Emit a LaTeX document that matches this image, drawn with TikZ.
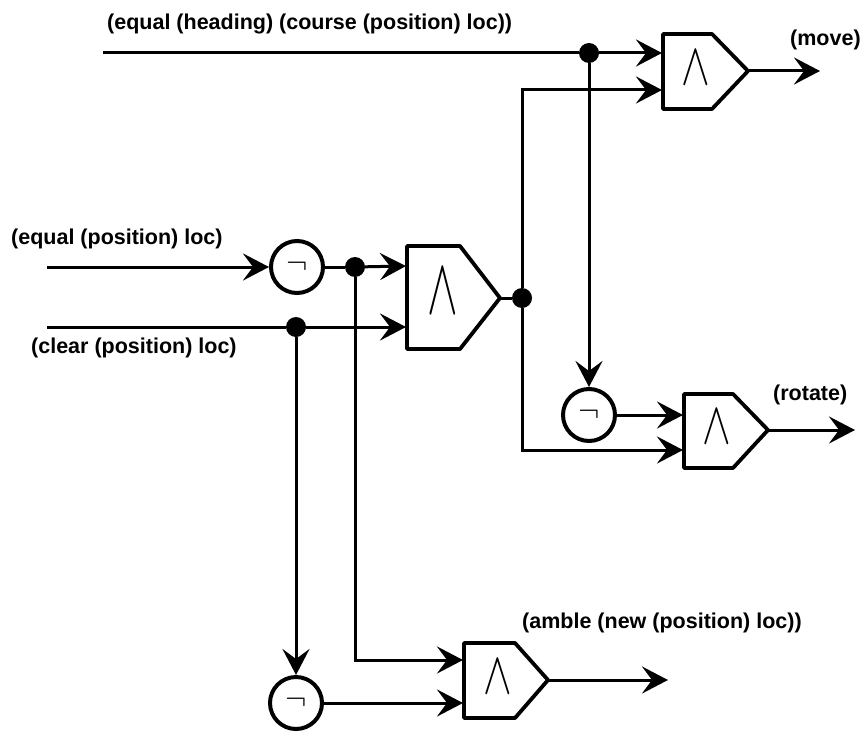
\documentclass[tikz,border=0pt]{standalone}
\usepackage{fontspec}
\setmainfont{Liberation Sans}
\usetikzlibrary{arrows.meta,positioning}

\begin{document}
\begin{tikzpicture}[
    x=1pt, y=-1pt,
    notgate/.style={circle, draw, line width=4pt, fill=white, minimum size=52pt, inner sep=0pt},
    dotjoin/.style={circle, fill=black, minimum size=20pt, inner sep=0pt},
    arrow/.style={line width=3pt, -{Stealth[length=26pt, width=27pt, inset=10pt]}},
    wire/.style={line width=3pt},
    label/.style={font=\fontsize{21.5}{24}\selectfont\bfseries, anchor=west, inner sep=0pt},
    andgate/.style={line width=3.8pt, line join=round},
    andmark/.style={inner sep=0pt}
]
    \useasboundingbox (0,0) rectangle (866,733);

    % Labels
    \node [label] (lheading) at (107,24) {(equal (heading) (course (position) loc))};
    \node [label] (lequal) at (11,239) {(equal (position) loc)};
    \node [label] (lclear) at (31,348) {(clear (position) loc)};
    \node [label] (lmove) at (790,40) {(move)};
    \node [label] (lrotate) at (773,395) {(rotate)};
    \node [label] (lamble) at (522,623) {(amble (new (position) loc))};

    % And gates
    \draw [andgate] (663,34) -- (712,34) -- (748,71) -- (712,109) -- (663,109) -- cycle;
    \draw [andgate] (407,246) -- (460,246) -- (500,298) -- (460,349) -- (407,349) -- cycle;
    \draw [andgate] (684,394) -- (733,394) -- (768,430) -- (733,468) -- (684,468) -- cycle;
    \draw [andgate] (464,643) -- (515,643) -- (548,680) -- (515,718) -- (464,718) -- cycle;
    \coordinate (gmove) at (748,71);
    \coordinate (gmovea) at (662,53);
    \coordinate (gmoveb) at (662,90);
    \coordinate (gmid) at (500,298);
    \coordinate (gmida) at (406,266);
    \coordinate (gmidb) at (406,327);
    \coordinate (grot) at (768,430);
    \coordinate (grota) at (683,415);
    \coordinate (grotb) at (683,450);
    \coordinate (gamb) at (548,680);
    \coordinate (gamba) at (463,660);
    \coordinate (gambb) at (463,703);

    % And symbols
    \node [andmark] (smove) at (696,68) {\scalebox{4.3}[6]{$\wedge$}};
    \node [andmark] (smid) at (443,291) {\scalebox{4.6}[8]{$\wedge$}};
    \node [andmark] (srot) at (717,427) {\scalebox{4.3}[6]{$\wedge$}};
    \node [andmark] (samb) at (498,677) {\scalebox{4.3}[6]{$\wedge$}};

    % Not gates
    \node [notgate] (nequal) at (297,267) {\scalebox{3.2}{$\neg$}};
    \node [notgate] (nrot) at (589,415) {\scalebox{3.2}{$\neg$}};
    \node [notgate] (nclear) at (296,703) {\scalebox{3.2}{$\neg$}};

    % Junctions
    \node [dotjoin] (jtop) at (589,53) {};
    \node [dotjoin] (jneg) at (355,267) {};
    \node [dotjoin] (jclear) at (296,327) {};
    \node [dotjoin] (jout) at (522,298) {};

    % Start and end points
    \coordinate (stop) at (103,53);
    \coordinate (sequal) at (47,267);
    \coordinate (sclear) at (47,327);
    \coordinate (emove) at (820,71);
    \coordinate (erot) at (855,430);
    \coordinate (eamb) at (668,680);

    %--- Top row ---
    \draw [wire] (stop) -- (jtop);
    \draw [arrow] (jtop) -- (gmovea);
    \draw [arrow] (jout) |- (gmoveb);
    \draw [arrow] (gmove) -- (emove);
    \draw [arrow] (jtop) -- (nrot);

    %--- Middle row ---
    \draw [arrow] (sequal) -- (nequal);
    \draw [wire] (nequal) -- (jneg);
    \draw [arrow] (jneg) -- (gmida);
    \draw [wire] (sclear) -- (jclear);
    \draw [arrow] (jclear) -- (gmidb);
    \draw [wire] (gmid) -- (jout);

    %--- Rotate row ---
    \draw [arrow] (nrot) -- (grota);
    \draw [arrow] (jout) |- (grotb);
    \draw [arrow] (grot) -- (erot);

    %--- Bottom row ---
    \draw [arrow] (jclear) -- (nclear);
    \draw [arrow] (jneg) |- (gamba);
    \draw [arrow] (nclear) -- (gambb);
    \draw [arrow] (gamb) -- (eamb);

\end{tikzpicture}
\end{document}
